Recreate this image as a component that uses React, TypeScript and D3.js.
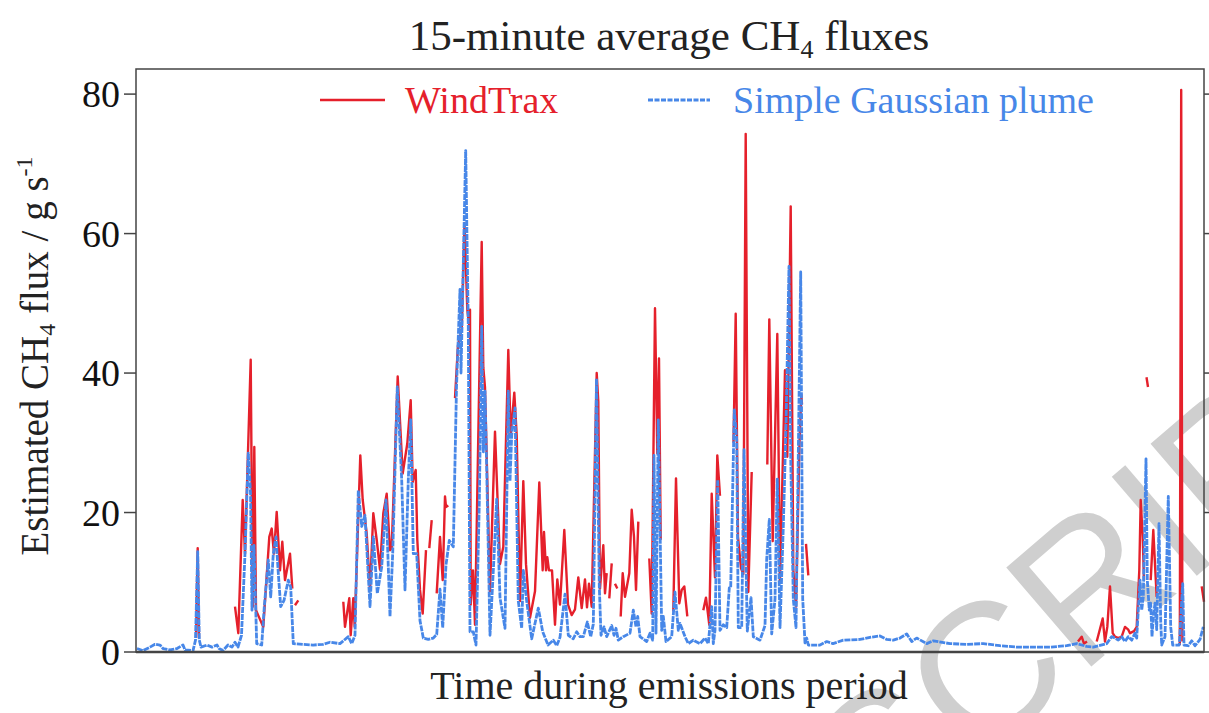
import * as d3 from "d3";
import React from "react";

// time axis = 15-minute interval number within the emissions period
const gaussianPlume: [number, number][] = [
  [1, 0.5], [7, 0.2], [14, 0.7], [19, 1.1], [24, 1.0], [27, 0.5], [34, 0.3], [41, 0.5], [47, 1.0], [49, 0.3],
  [57, 0.2], [59.5, 1.7], [61.7, 14.4], [63.3, 1.7], [65, 0.7], [71, 1.0], [76, 0.7], [81, 1.0], [83, 0.5], [87, 0.2],
  [92, 1.0], [96, 0.7], [99, 1.4], [102, 0.7], [105.5, 2.4], [109, 14.1], [112.3, 28.5], [114.5, 22.8], [116, 6.0],
  [118, 15.3], [120.7, 1.2], [125.7, 1.0], [128.3, 6.5], [132.3, 13.2], [134.7, 7.9], [137.3, 14.1], [140, 16.5],
  [142.3, 11.3], [144.7, 6.5], [148, 7.4], [152.3, 10.3], [154.7, 9.3], [157.3, 1.2], [167, 1.1], [177, 1.0],
  [187, 1.1], [194, 1.4], [204, 1.2], [212.3, 2.2], [215.7, 1.2], [219, 2.4], [222.3, 23.2], [225.7, 18.0],
  [229, 19.6], [234, 6.5], [237.3, 16.5], [241.3, 8.4], [245.7, 12.2], [250, 21.8], [254, 5.1], [256.7, 14.1],
  [261.3, 38.0], [265.7, 24.7], [269, 8.9], [272.3, 24.7], [274.7, 33.3], [277.3, 14.1], [280.7, 14.1], [284, 4.5],
  [287.3, 2.0], [292.3, 1.8], [297.3, 2.0], [300.7, 2.5], [304, 9.0], [306.7, 3.5], [310, 12.5], [313.3, 16],
  [317.3, 15.1], [320.5, 38], [324, 52], [325, 40], [329.7, 71.9], [332.3, 46.7], [334, 2.9], [337.3, 2.9],
  [340, 1.0], [343.3, 21.4], [345.7, 46.7], [347.3, 28.7], [349, 37.4], [350.7, 26.2], [354, 2.4], [358, 13.6],
  [360.7, 21.9], [364, 7.8], [369, 3.4], [372.3, 37.4], [374, 24.5], [375.7, 31.1], [379, 35], [382.3, 7.3],
  [385.7, 3.4], [387.3, 11.7], [390.7, 7.3], [395.7, 1.9], [402.3, 6.3], [406.7, 2.9], [412, 1.0], [417.3, 1.7],
  [420.7, 0.9], [424, 2.1], [429, 8.3], [432.3, 2.4], [437.3, 1.9], [440.7, 2.9], [444, 2.2], [447.3, 2.2],
  [451.3, 4.3], [454.7, 2.2], [457.3, 4.0], [460.5, 39.2], [463.3, 9.4], [465, 2.4], [468, 3.6], [470.7, 2.2],
  [475.7, 3.8], [478, 2.4], [480, 3.4], [482.3, 1.7], [487.3, 2.2], [494, 2.7], [497.3, 6.0], [500, 3.6],
  [501.7, 5.1], [504, 2.2], [510.7, 1.5], [514, 2.7], [516.7, 1.7], [518, 28.2], [520, 2.7], [522.3, 33.3],
  [525.7, 3.1], [527.3, 5.1], [530, 1.5], [535.7, 2.2], [539, 8.6], [542.3, 3.1], [544, 4.1], [549, 2.2],
  [552.3, 1.2], [557.3, 1.7], [564, 1.2], [569, 2.0], [572.3, 1.2], [575.7, 6.5], [577.3, 1.2], [579, 3.1],
  [581.7, 24.7], [584, 3.1], [587.3, 3.9], [590.7, 3.5], [593.3, 9.2], [594.7, 9.2], [598.3, 34.7], [600.7, 30.5],
  [602.3, 3.5], [605.7, 3.5], [608, 29], [610, 12.8], [611.3, 3.0], [615, 7.8], [617.3, 2.2], [624, 1.7],
  [629, 3.8], [630.7, 13.3], [633.3, 19], [635.7, 2.6], [639, 7.6], [641.3, 24.8], [644, 3.5], [647.3, 18],
  [650, 32.4], [653, 55.3], [654.7, 28], [657.3, 7.6], [660, 3.5], [662.3, 28.3], [664.7, 54.5], [666.7, 7.6],
  [669, 1.3], [670.7, 2.0], [672.3, 1.0], [684, 1.0], [690.7, 1.5], [697, 1.2], [707.3, 1.7], [724, 1.8],
  [734, 2.1], [744, 2.3], [750.7, 1.8], [757.3, 1.7], [764, 2.0], [770.7, 2.6], [775.7, 1.5], [780.7, 2.0],
  [790.7, 1.2], [797.3, 1.6], [814, 1.2], [830.7, 1.1], [847.3, 1.2], [864, 0.9], [880.7, 0.7], [897, 0.7],
  [914, 0.7], [930.7, 0.9], [940.7, 1.2], [950.7, 0.8], [957.3, 0.7], [970.7, 1.2], [975.7, 2.2], [979, 2.0],
  [982.3, 1.7], [985.7, 2.2], [989, 1.5], [992.3, 2.2], [995.7, 1.7], [999, 2.7], [1000.7, 2.0], [1004, 10.3],
  [1005.7, 6.0], [1007.3, 7.9], [1010, 27.7], [1011.3, 10.3], [1013.3, 6.0], [1014.7, 7.0], [1016, 2.2],
  [1017.3, 5.0], [1019, 7.0], [1020.7, 3.2], [1023, 18.4], [1024.7, 4.5], [1025.7, 1.0], [1029, 2.2],
  [1032.3, 22.3], [1034.7, 3.6], [1036.7, 1.0], [1040.7, 1.0], [1043.3, 1.0], [1046.7, 9.8], [1048, 1.0],
  [1052.3, 0.9], [1055.7, 1.6], [1059, 0.9], [1064, 1.8], [1067.3, 3.6],
];

// WindTrax has gaps (no valid estimate), so it is kept as separate runs
const windTrax: [number, number][][] = [
  [[60, 2.0], [61.7, 14.9], [63, 2.0]],
  [[99, 6.5], [102.3, 2.7], [106.7, 21.8], [109, 14.1], [114.7, 41.9], [116.7, 6.5], [118.3, 29.4], [120, 6.0],
    [123, 5.0], [127.3, 3.6], [133.3, 16.5], [135.7, 17.7], [138, 14.1], [140.7, 20.1], [144, 11.7], [146.3, 15.8],
    [149, 10.3], [154, 14.1], [156.3, 9.1]],
  [[159, 6.7], [162.3, 7.4]],
  [[207.3, 7.2], [209, 3.6], [213.3, 7.7], [214.7, 2.4], [217.3, 7.7], [218.7, 3.6], [224.3, 28.2], [226.7, 21.8],
    [230.7, 17], [234, 8.9], [237.3, 19.9], [240.7, 16.1], [244, 11.8], [247.3, 19.9], [250.7, 22.7], [254, 14.6],
    [255.7, 14.9], [261.7, 39.5], [266.7, 25.6], [271.3, 29.9], [274.7, 36.1], [276.7, 24.4], [279.7, 26.1],
    [281.3, 16.1], [284, 8.9], [286.7, 5.5], [290, 14.6]],
  [[293.3, 14.9], [295.7, 18.9]],
  [[300.7, 8.4], [304, 16.5], [306.7, 10.3], [309, 22.3], [310, 20.8], [312.3, 21]],
  [[319, 36.4], [322, 44], [325.7, 46.2], [328.5, 61.5], [331.3, 49.1], [333.3, 46.7], [334, 49.1], [334.7, 6.8],
    [337, 11.7], [339, 3.9], [345.7, 58.8], [347.3, 40.8], [349, 37.9], [354, 8.7], [359, 31.6], [364, 12.6],
    [367.3, 15.1], [372.3, 43.3], [374.7, 31.1], [378.3, 37.2], [380.7, 31.1], [384, 7.3], [387.3, 24.5],
    [390, 12.6], [394, 4.9], [399, 8.7], [403.3, 24.3], [406.7, 11.7], [408, 17.2], [410, 11.7], [411.3, 13.6],
    [413, 11.7], [416, 11.7], [419, 3.9], [421.3, 10.4], [424, 6.8], [428.3, 17.5], [432, 6.8], [435.7, 5.3],
    [439, 6.1], [442.3, 10.7], [445.7, 6.3], [449, 10.4], [451, 6.4], [453, 9.8], [455.7, 6.5], [460.7, 40],
    [462.3, 35.9], [464, 9.1], [467.3, 15.3], [469, 8.4], [470.7, 11.3]],
  [[473.3, 7.7], [475.7, 12.7]],
  [[479, 9.8], [481.3, 9.1]],
  [[484.7, 5.1], [486.7, 11.3], [489, 7.9], [493.3, 11.3], [495.7, 20.4], [498, 16.5], [500, 8.9], [502.3, 18.7]],
  [[513.3, 13.4], [515.7, 5.5], [519, 49.3], [521.3, 28.5], [523, 42.1], [524.7, 16.1]],
  [[537.3, 5.8], [540, 24.9], [543.3, 7.0], [545.7, 8.9], [548.3, 9.4], [551.3, 5.1]],
  [[567.3, 6.0], [570, 7.8], [573.3, 3.9], [575.7, 22.7], [579, 10.7], [581.3, 28.2], [584, 22.4]],
  [[597.5, 30], [599.7, 48.5], [602, 16.5], [605, 12], [607.3, 11.2], [609.7, 74.3], [612.3, 8.6], [615.7, 25.8]],
  [[631.3, 26.9], [633.3, 47.7], [636.7, 15.9], [641.3, 45.6], [644, 10.2], [649, 40.4], [651.3, 28.0],
    [654.7, 63.9], [657.3, 11.8], [660, 6.5], [663.5, 30], [665.3, 36.9], [666, 35.5]],
  [[670, 15.5], [672.3, 11]],
  [[942, 1.5], [945.7, 2.2], [948, 1.2], [951, 1.5]],
  [[960.7, 1.5], [966.7, 4.8], [969, 1.5], [971.3, 3.6], [974, 9.4], [976.7, 2.7], [979, 2.2], [982.3, 2.0],
    [985.7, 2.2], [989, 3.6], [992.3, 3.2], [994, 2.7], [998, 3.0], [1000.7, 3.6], [1003.3, 11.7], [1004.7, 21.8],
    [1006.7, 16.5], [1008, 10.3]],
  [[1010.5, 39.4], [1012, 38.0]],
  [[1014.7, 10.3], [1017.3, 17.5], [1019.3, 11.7], [1020.7, 7.9]],
  [[1043.8, 1.0], [1045.2, 80.6], [1046.4, 1.5]],
  [[1065.7, 9.4], [1068, 7.2]],
];

const yTicks = [0, 20, 40, 60, 80];
const seriesNames = ["WindTrax", "Simple Gaussian plume"];

const RED = "#e5202b";
const BLUE = "#4787e8";
const FONT = "'Liberation Serif', 'Times New Roman', serif";

export default function App() {
  const width = 1209;
  const height = 713;
  const margin = { top: 69, right: 5, bottom: 61, left: 136 };
  const w = width - margin.left - margin.right;
  const h = height - margin.top - margin.bottom;

  const x = d3.scaleLinear().domain([0, 1068]).range([0, w]);
  const y = d3.scaleLinear().domain([0, 83.6]).range([h, 0]);

  const line = d3.line<[number, number]>()
    .x((d) => x(d[0]))
    .y((d) => y(d[1]));

  return (
    <svg width={width} height={height} style={{ position: "absolute", left: 0, top: 0, background: "#fff" }}
      fontFamily={FONT}>
      {/* watermark, only its tail shows in the page */}
      <text transform="translate(1408,395) rotate(-40.6)" textAnchor="end" fontSize={190}
        fontFamily="'Liberation Sans', Arial, sans-serif" fill="#cfcfcf">MANUSCRIPT</text>

      <text x={669} y={50} textAnchor="middle" fontSize={43} fill="#222">
        15-minute average CH<tspan fontSize={26} dy={8}>4</tspan><tspan dy={-8}> fluxes</tspan>
      </text>

      <g transform={`translate(${margin.left},${margin.top})`}>
        {windTrax.map((seg, i) => (
          <path key={i} d={line(seg) || ""} fill="none" stroke={RED} strokeWidth={2.4} strokeLinejoin="round" />
        ))}
        <path d={line(gaussianPlume) || ""} fill="none" stroke={BLUE} strokeWidth={2.8}
          strokeDasharray="6 1" strokeLinejoin="round" />

        <rect x={0} y={0} width={w} height={h} fill="none" stroke="#444" strokeWidth={1.5} />
        <line x1={0} x2={w} y1={h} y2={h} stroke="#444" strokeWidth={2.5} />
        {yTicks.map((t) => (
          <g key={t}>
            <line x1={-12} x2={0} y1={y(t)} y2={y(t)} stroke="#444" strokeWidth={1.5} />
            <line x1={w} x2={w + 10} y1={y(t)} y2={y(t)} stroke="#444" strokeWidth={1.5} />
            <text x={-16} y={y(t)} dy="0.35em" textAnchor="end" fontSize={38} fill="#111">{t}</text>
          </g>
        ))}

        {/* legend */}
        <line x1={184} x2={249} y1={31} y2={31} stroke={RED} strokeWidth={2.6} />
        <text x={269} y={44} fontSize={38} fill={RED}>{seriesNames[0]}</text>
        <line x1={512} x2={574} y1={31} y2={31} stroke={BLUE} strokeWidth={2.8} strokeDasharray="5 1.5" />
        <text x={597} y={44} fontSize={38} fill={BLUE}>{seriesNames[1]}</text>
      </g>

      <text x={669} y={699} textAnchor="middle" fontSize={40} fill="#222">Time during emissions period</text>
      <text transform="translate(48,356) rotate(-90)" textAnchor="middle" fontSize={39} fill="#222">
        Estimated CH<tspan fontSize={24} dy={7}>4</tspan><tspan dy={-7}> flux / g s</tspan>
        <tspan fontSize={24} dy={-16}>-1</tspan>
      </text>
    </svg>
  );
}
